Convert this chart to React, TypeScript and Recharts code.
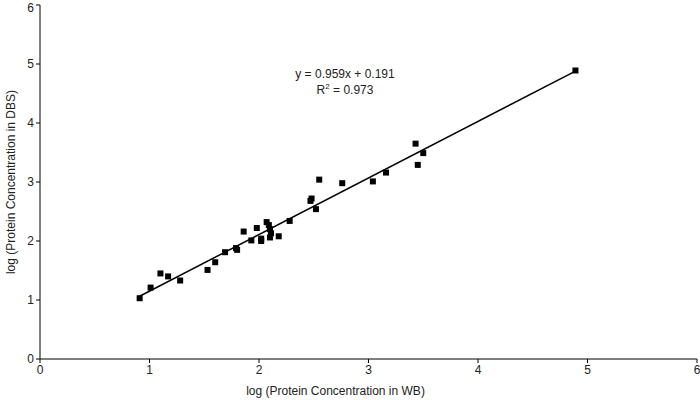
import { ScatterChart, Scatter, XAxis, YAxis, ReferenceLine, Label } from "recharts";

const wbLog = [
  0.91, 1.01, 1.1, 1.17, 1.28, 1.53, 1.6, 1.69, 1.79, 1.8, 1.86, 1.93, 1.98, 2.02, 2.02, 2.07,
  2.09, 2.1, 2.11, 2.1, 2.18, 2.28, 2.47, 2.48, 2.52, 2.55, 2.76, 3.04, 3.16, 3.43, 3.45, 3.5, 4.89,
];
const dbsLog = [
  1.03, 1.21, 1.45, 1.4, 1.33, 1.51, 1.64, 1.81, 1.88, 1.85, 2.16, 2.01, 2.22, 2.04, 2.0, 2.32,
  2.27, 2.2, 2.13, 2.06, 2.08, 2.34, 2.68, 2.72, 2.54, 3.04, 2.98, 3.01, 3.16, 3.65, 3.29, 3.49, 4.89,
];
const ticks = [0, 1, 2, 3, 4, 5, 6];
const slope = 0.959;
const intercept = 0.191;
const fitRange = [0.91, 4.89];

const points = wbLog.map((x, i) => ({ x, y: dbsLog[i] }));

const font = "'Liberation Sans', Arial, sans-serif";

const Square = (props: any) => {
  const { cx, cy } = props;
  return <rect x={cx - 3} y={cy - 3} width={6} height={6} fill="#000" />;
};

export default function App() {
  return (
    <div style={{ position: "absolute", left: 0, top: 0, width: 700, height: 400, background: "#fff", fontFamily: font }}>
      <ScatterChart width={700} height={400} margin={{ top: 5, right: 3, bottom: 11, left: 0 }}>
        <XAxis
          type="number"
          dataKey="x"
          domain={[0, 6]}
          ticks={ticks}
          stroke="#000"
          tickSize={4}
          height={30}
          tick={{ fill: "#222", fontSize: 12, fontFamily: font }}
        >
          <Label value="log (Protein Concentration in WB)" position="bottom" offset={-3} dx={-33} fill="#222" fontSize={12} fontFamily={font} />
        </XAxis>
        <YAxis
          type="number"
          dataKey="y"
          domain={[0, 6]}
          ticks={ticks}
          stroke="#000"
          tickSize={4}
          width={40}
          tick={{ fill: "#222", fontSize: 12, fontFamily: font }}
        >
          <Label value="log (Protein Concentration in DBS)" angle={-90} position="insideLeft" offset={11} style={{ textAnchor: "middle" }} fill="#222" fontSize={12} fontFamily={font} />
        </YAxis>
        <ReferenceLine
          segment={[
            { x: fitRange[0], y: slope * fitRange[0] + intercept },
            { x: fitRange[1], y: slope * fitRange[1] + intercept },
          ]}
          stroke="#000"
          strokeWidth={1.5}
        />
        <Scatter data={points} shape={Square} isAnimationActive={false} />
      </ScatterChart>
      <div style={{ position: "absolute", left: 245, width: 200, top: 66, textAlign: "center", fontSize: 12, color: "#222", lineHeight: "16px" }}>
        <div>y = 0.959x + 0.191</div>
        <div>
          R<sup style={{ fontSize: 8, lineHeight: 0 }}>2</sup> = 0.973
        </div>
      </div>
    </div>
  );
}
